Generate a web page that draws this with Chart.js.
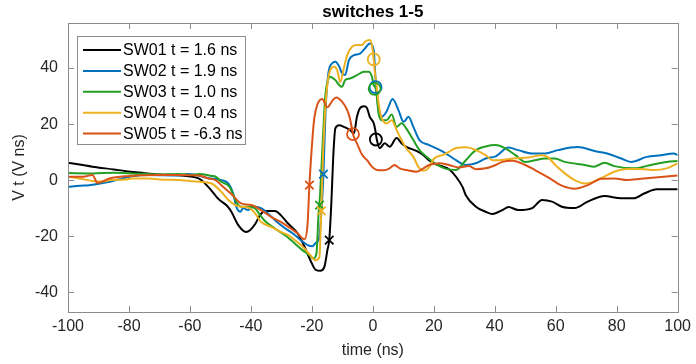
<!DOCTYPE html>
<html>
<head>
<meta charset="utf-8">
<script src="https://cdn.jsdelivr.net/npm/chart.js@4.4.1/dist/chart.umd.min.js"></script>
<style>
    html, body { margin: 0; padding: 0; background: #fff; }
    #wrap { width: 696px; height: 364px; }
</style>
</head>
<body>
<div id="wrap"><canvas id="switchChart" width="696" height="364"></canvas></div>
<script>
// time (ns) and V t (V ns) per switch
const sw01T = [-100, -92, -85, -81, -76.6, -70, -63.6, -57, -54, -50.6, -48, -46.4, -44.2, -41.6, -40.3, -38.6, -37, -35.4, -32.1, -30.2, -27.9, -24.7, -22.4, -20.5, -18.8, -17.2, -15.9, -14.9, -14.3, -13.6, -13, -12.3, -11, -9.5, -7.5, -6.2, -5.2, -4.2, -2.9, -1.9, -1, 0.3, 0.8, 1.3, 2.3, 3.9, 5.5, 7.8, 9.4, 11, 14.3, 16.6, 18.5, 20.8, 23.1, 25, 27.3, 29.5, 30.5, 33.8, 37, 39.3, 42.5, 44.5, 47.7, 52.3, 55.5, 58.8, 62, 66.2, 70.5, 76, 81.5, 85.7, 89, 93.2, 98.7, 100];
const sw01V = [6.2, 4.8, 3.8, 3.2, 2.7, 2, 1.7, 0.5, -2.4, -6.8, -9, -11.3, -16, -18.5, -17.9, -15.7, -12.5, -11, -11, -12.5, -15.4, -19, -23.8, -28.6, -32, -32.4, -31, -25, -21.4, -8, 8, 18.5, 19.6, 19, 17.9, 16.7, 22.6, 25.7, 26.4, 25.7, 22.6, 20.3, 17.9, 14.5, 11.4, 13.2, 11.9, 15, 13.2, 11.9, 10.4, 8.9, 7, 5.6, 4.8, 3.9, 1.2, -2.6, -5.4, -9.5, -11.3, -12.1, -10.7, -9.6, -10.7, -10, -7.1, -7.7, -9.5, -10, -7.7, -5.7, -6.5, -6.5, -4.8, -3.3, -3.3, -3.3];

const sw02T = [-100, -96, -93, -86.4, -79, -73.4, -64, -60.4, -53.9, -49.7, -47.4, -45.8, -44.8, -43.5, -42.5, -40.9, -39.3, -36.7, -34.4, -32.1, -28.9, -25.6, -23.7, -21.4, -19.8, -18.8, -17.5, -16.8, -16.2, -15.5, -14.6, -13.3, -12.3, -11, -10.1, -9.1, -7.8, -6.2, -4.2, -2.6, -1, 0.3, 0.9, 1.3, 1.9, 2.9, 4.5, 6.5, 8.4, 10.1, 11.7, 13.3, 15.3, 18.5, 23.1, 27.3, 30.5, 33.8, 37, 40.3, 44.5, 47.7, 52.3, 56.5, 60.7, 67.2, 72.7, 76.9, 81.5, 84.7, 89.9, 94.5, 98.7, 100];
const sw02V = [-2.4, -2, -1.8, -0.6, 1.4, 1.8, 1.6, 2.2, 0.7, 0, -1.2, -4.8, -9.5, -11.3, -10, -10.7, -9.5, -10, -11.9, -14.3, -17.1, -19.6, -21.4, -23.2, -23.6, -22.5, -20, -10, 2, 25, 38, 41.7, 42.3, 40.5, 38.1, 37.5, 42.9, 44.6, 45.2, 47, 48.8, 46.4, 36, 31, 25, 22.6, 24.5, 29, 25, 20.8, 22.6, 19, 14.3, 12.5, 10.1, 7.1, 5.4, 6, 7.7, 8.5, 11.6, 10.7, 9.5, 9.5, 10.7, 11.8, 10.4, 9.5, 7.7, 6.5, 8.3, 8.9, 9.5, 8.9];

const sw03T = [-100, -92, -85, -79, -70, -63.6, -59.4, -57, -52.9, -51.6, -49.7, -47, -44.8, -43.2, -40.9, -38.6, -37, -35.1, -32.1, -28.9, -25.6, -23.1, -20.8, -19.5, -18.5, -17.8, -17.3, -16.6, -15.6, -14.6, -14, -12.3, -11, -10.1, -9.1, -7.5, -5.2, -2.9, -1.3, -0.3, 0.3, 1, 1.3, 1.9, 2.9, 4.5, 6.2, 7.8, 9.4, 11, 13.3, 15.3, 18, 21, 24, 27.3, 30.5, 33.8, 37, 40.3, 43.5, 46.8, 50, 53.2, 56.5, 59.7, 63, 69.5, 72.7, 76, 79.2, 85.7, 91.2, 96.4, 100];
const sw03V = [2.5, 2.4, 2.6, 2.4, 2, 2.2, 1.8, 2.2, 1.5, 1.2, -0.6, -2.4, -7.7, -9.5, -9.5, -10.1, -12.5, -14.9, -17.3, -19.6, -22.6, -25, -26.8, -28, -26.2, -12, -5, 10, 30, 36, 36.9, 35.7, 33.9, 33.3, 35.7, 36.3, 37.5, 38.7, 38.7, 36.9, 33.9, 32.5, 29.8, 23.8, 21.4, 21.4, 23.4, 19, 20.3, 18.4, 14.3, 10.7, 8, 5.5, 4, 3.6, 7.1, 10.7, 12, 12.5, 11.3, 8.9, 6.5, 7.1, 7.7, 7.7, 6.5, 5.4, 4.8, 6.2, 5, 4.2, 5.4, 6.5, 6.8];

const sw04T = [-100, -96, -92, -88.6, -86, -81, -79, -73.4, -70, -63.6, -57.1, -52.9, -49.7, -47.4, -45.1, -43.2, -40.3, -38.6, -36.7, -33.4, -30.2, -27.9, -25.6, -22.4, -20.5, -18.8, -17.5, -17.2, -16.9, -16.3, -15.3, -14, -12.7, -11.7, -10.7, -9.4, -8.4, -6.8, -5.2, -3.6, -2.6, -1, -0.3, 0.3, 0.6, 1.3, 1.9, 2.6, 3.6, 4.5, 6.2, 7.8, 9.4, 11, 13.3, 14.9, 16.6, 18.2, 20.1, 23.1, 25, 27.3, 30.5, 33.8, 37, 39.3, 42.5, 46.8, 51, 55.5, 57.5, 59.7, 63, 66.2, 69.5, 71.8, 75, 79.2, 83.4, 88, 92.2, 96.4, 100];
const sw04V = [1.2, 0.5, -0.3, -0.5, 0, 0.2, 0.6, 0.6, 0.2, 0, -0.6, -1.2, -4.2, -7.1, -8.9, -9.5, -10.1, -11.9, -14.9, -16.7, -18.5, -19.6, -21.4, -24.4, -26.8, -28.6, -27.4, -20, -11, 10, 30, 39.3, 40.5, 39.3, 35, 40.5, 44.6, 47.6, 48.2, 48.2, 49.4, 50, 48.2, 43.1, 39.3, 33.3, 27.4, 23.2, 20.8, 20.2, 21.4, 17.9, 14.3, 11.3, 8.3, 4.8, 3.3, 4.2, 7.7, 9, 10.1, 11.5, 11.7, 10.7, 8.9, 7.1, 7.2, 7.8, 8.1, 8.9, 8.1, 5.6, 2.4, 0, -1.2, -0.8, 0.8, 3, 4, 4, 3.6, 4.2, 6];

const sw05T = [-100, -95, -92, -90.3, -86.4, -80.8, -70, -63.6, -57, -53.9, -51.6, -49.7, -46.4, -43.2, -39.9, -36.7, -33.4, -30.2, -26.9, -24.7, -23.1, -22.4, -21.4, -20.8, -19.8, -19.2, -18.2, -16.6, -14.9, -13.3, -12, -10.1, -8.4, -7.5, -6.5, -5.2, -3.6, -1.9, -0.3, 1.3, 3.6, 5.5, 7.1, 8.8, 11, 14.3, 16.6, 18.5, 21.8, 25, 28.2, 31.5, 33.8, 37, 40.3, 42.5, 45.8, 50, 53.2, 57.5, 62, 66.2, 70.5, 75, 79.2, 83.4, 88, 94.5, 100];
const sw05V = [1.2, 1.2, 1.8, -1, 0.6, 1.4, 1.8, 1.8, 1.6, 0.6, 0, -1.8, -5, -8.3, -8.9, -10.7, -13.1, -14.9, -17.3, -19, -20.8, -21.1, -15.5, -1.8, 15, 22, 27, 29, 26, 28.3, 29.5, 28, 25, 22, 16.4, 13.1, 9.2, 7.1, 4.8, 3.6, 3.5, 4.2, 5.4, 4.2, 3.6, 3, 4.2, 5.4, 6, 5.4, 4.5, 5, 3.9, 4.2, 5.4, 6.5, 6.9, 5.4, 3.6, 1, -2, -3.1, -1.8, 0.5, 0.6, 0, 0.5, 1.1, 1.6];

// 'x' markers and 'o' markers, one per switch (SW01..SW05)
const crossT = [-14.3, -16.2, -17.5, -16.9, -20.8];
const crossV = [-21.4, 2.1, -8.9, -11, -1.8];
const circleT = [1.0, 0.9, 0.6, 0.3, -6.5];
const circleV = [14.5, 33.2, 32.6, 43.1, 16.4];

const labels = ['SW01 t = 1.6 ns', 'SW02 t = 1.9 ns', 'SW03 t = 1.0 ns', 'SW04 t = 0.4 ns', 'SW05 t = -6.3 ns'];
const colors = ['#000000', '#0072BD', '#23A023', '#EDB120', '#D95319'];

const xTicks = [-100, -80, -60, -40, -20, 0, 20, 40, 60, 80, 100];
const yTicks = [-40, -20, 0, 20, 40];

const FONT = '"Liberation Sans", Arial, Helvetica, sans-serif';
const AXIS_COLOR = '#8c8c8c';
const TEXT_COLOR = '#262626';

const toPoints = (ts, vs) => ts.map((t, i) => ({ x: t, y: vs[i] }));
const series = [[sw01T, sw01V], [sw02T, sw02V], [sw03T, sw03V], [sw04T, sw04V], [sw05T, sw05V]];

const datasets = [];
series.forEach(([ts, vs], i) => {
    datasets.push({
        label: labels[i],
        data: toPoints(ts, vs),
        borderColor: colors[i],
        backgroundColor: colors[i],
        borderWidth: 2,
        pointRadius: 0,
        cubicInterpolationMode: 'monotone',
        order: 10 - i
    });
});
// markers on top of all lines
colors.forEach((c, i) => {
    datasets.push({
        label: 'cross' + i,
        data: [{ x: crossT[i], y: crossV[i] }],
        showLine: false,
        pointStyle: 'crossRot',
        pointRadius: 6,
        pointBorderWidth: 1.8,
        borderColor: c,
        order: 5 - i
    });
    datasets.push({
        label: 'circle' + i,
        data: [{ x: circleT[i], y: circleV[i] }],
        showLine: false,
        pointStyle: 'circle',
        pointRadius: 6,
        pointBorderWidth: 1.8,
        borderColor: c,
        backgroundColor: 'rgba(0,0,0,0)',
        order: 5 - i
    });
});

// MATLAB-style box, inward ticks, title and legend
const matlabAxes = {
    id: 'matlabAxes',
    afterDatasetsDraw(chart) {
        const { ctx, chartArea: a, scales } = chart;
        const tl = 6;
        ctx.save();
        ctx.strokeStyle = AXIS_COLOR;
        ctx.lineWidth = 1;
        ctx.strokeRect(Math.round(a.left) + 0.5, Math.round(a.top) + 0.5,
            Math.round(a.right - a.left), Math.round(a.bottom - a.top));
        ctx.beginPath();
        xTicks.forEach(v => {
            const px = Math.round(scales.x.getPixelForValue(v)) + 0.5;
            ctx.moveTo(px, a.bottom); ctx.lineTo(px, a.bottom - tl);
            ctx.moveTo(px, a.top); ctx.lineTo(px, a.top + tl);
        });
        yTicks.forEach(v => {
            const py = Math.round(scales.y.getPixelForValue(v)) + 0.5;
            ctx.moveTo(a.left, py); ctx.lineTo(a.left + tl, py);
            ctx.moveTo(a.right, py); ctx.lineTo(a.right - tl, py);
        });
        ctx.stroke();
        ctx.restore();
    },
    afterDraw(chart) {
        const { ctx, chartArea: a } = chart;
        ctx.save();
        // title
        ctx.fillStyle = '#000';
        ctx.font = 'bold 17px ' + FONT;
        ctx.textAlign = 'center';
        ctx.textBaseline = 'middle';
        ctx.fillText('switches 1-5', (a.left + a.right) / 2, 12);

        // legend
        const bx = 77.5, by = 36.5, bw = 168, bh = 108;
        ctx.fillStyle = '#fff';
        ctx.fillRect(bx, by, bw, bh);
        ctx.strokeStyle = AXIS_COLOR;
        ctx.lineWidth = 1;
        ctx.strokeRect(bx, by, bw, bh);
        ctx.font = '16px ' + FONT;
        ctx.textAlign = 'left';
        labels.forEach((lab, i) => {
            const y = 50 + i * 20.9;
            ctx.strokeStyle = colors[i];
            ctx.lineWidth = 2;
            ctx.beginPath();
            ctx.moveTo(83, y); ctx.lineTo(121, y);
            ctx.stroke();
            ctx.fillStyle = '#000';
            ctx.fillText(lab, 123, y + 1);
        });
        ctx.restore();
    }
};

const ctx = document.getElementById('switchChart').getContext('2d');
new Chart(ctx, {
    type: 'line',
    data: { datasets: datasets },
    options: {
        responsive: false,
        animation: false,
        devicePixelRatio: 1,
        layout: { padding: { top: 23, right: 12, bottom: 0, left: 0 } },
        plugins: {
            legend: { display: false },
            title: { display: false },
            tooltip: { enabled: false }
        },
        scales: {
            x: {
                type: 'linear',
                min: -100,
                max: 100,
                afterFit: scale => { scale.height = 52; },
                afterBuildTicks: scale => { scale.ticks = xTicks.map(v => ({ value: v })); },
                grid: { display: false, drawTicks: false },
                border: { display: false },
                ticks: { color: TEXT_COLOR, padding: 5, maxRotation: 0, font: { family: FONT, size: 16 } },
                title: { display: true, text: 'time (ns)', color: TEXT_COLOR, padding: { top: 0, bottom: 4 }, font: { family: FONT, size: 16 } }
            },
            y: {
                type: 'linear',
                min: -47.1,
                max: 56.1,
                afterFit: scale => { scale.width = 68; },
                afterBuildTicks: scale => { scale.ticks = yTicks.map(v => ({ value: v })); },
                grid: { display: false, drawTicks: false },
                border: { display: false },
                ticks: { color: TEXT_COLOR, padding: 10, font: { family: FONT, size: 16 } },
                title: { display: true, text: 'V t (V ns)', color: TEXT_COLOR, padding: { top: 10, bottom: 0 }, font: { family: FONT, size: 16 } }
            }
        }
    },
    plugins: [matlabAxes]
});
</script>
</body>
</html>
